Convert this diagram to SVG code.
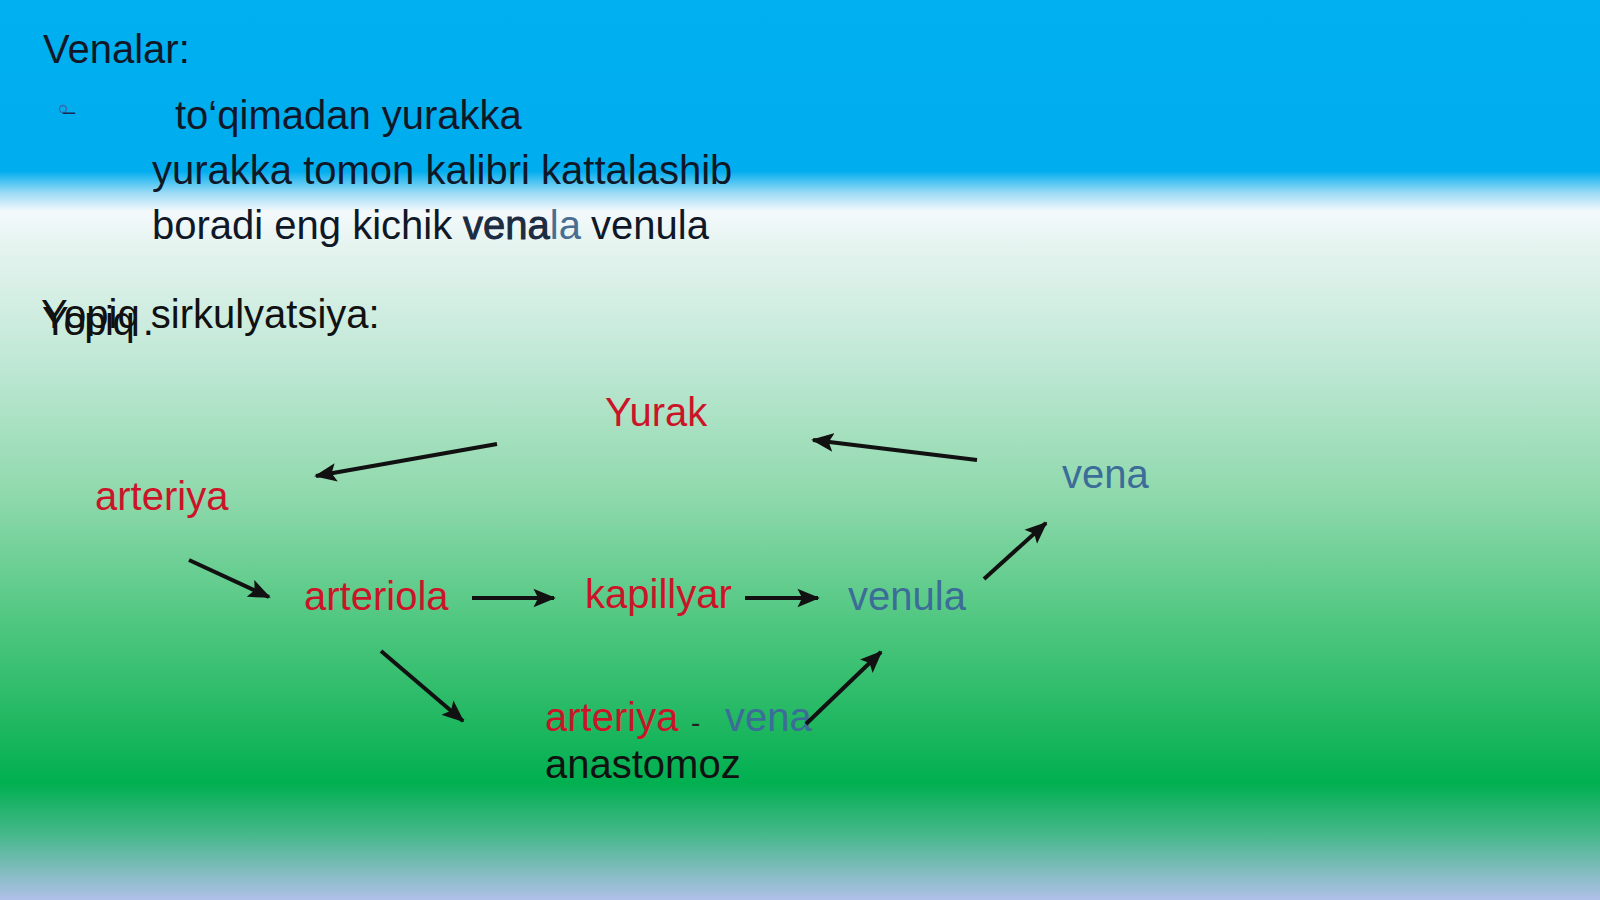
<svg xmlns="http://www.w3.org/2000/svg" width="1600" height="900" viewBox="0 0 1600 900">
  <defs>
    <linearGradient id="bg" x1="0" y1="0" x2="0" y2="1">
      <stop offset="0" stop-color="#00b0f0"/>
      <stop offset="0.19" stop-color="#00adee"/>
      <stop offset="0.215" stop-color="#9fdcf6"/>
      <stop offset="0.235" stop-color="#f4f9fc"/>
      <stop offset="0.27" stop-color="#e6f4f0"/>
      <stop offset="0.40" stop-color="#c0e8d6"/>
      <stop offset="0.55" stop-color="#8fd9ac"/>
      <stop offset="0.70" stop-color="#4cc67e"/>
      <stop offset="0.80" stop-color="#22b862"/>
      <stop offset="0.87" stop-color="#00b050"/>
      <stop offset="0.93" stop-color="#4ab88e"/>
      <stop offset="1" stop-color="#b0c0e8"/>
    </linearGradient>
    <marker id="ah" viewBox="0 0 12 10" refX="11" refY="5" markerWidth="5.6" markerHeight="4.8" orient="auto" markerUnits="strokeWidth">
      <path d="M0,0 L12,5 L0,10 L2.5,5 z" fill="#111"/>
    </marker>
    <style>
      text { font-family: "Liberation Sans", Arial, sans-serif; font-size: 40px; }
      .dark { fill: #101828; }
      .blk { fill: #111; }
      .red { fill: #cc1428; }
      .blu { fill: #3c6c98; }
      .conn line { stroke: #111; stroke-width: 4; marker-end: url(#ah); }
    </style>
  </defs>
  <rect x="0" y="0" width="1600" height="900" fill="url(#bg)"/>

  <g id="header">
    <text class="dark" x="43" y="63">Venalar:</text>
    <circle cx="63" cy="109" r="3.5" fill="none" stroke="#3a66a8" stroke-width="1.3"/>
    <text x="63" y="119" style="font-size:22px" fill="#1a2a55">–</text>
    <text class="dark" x="175" y="129">to‘qimadan yurakka</text>
    <text class="dark" x="152" y="184">yurakka tomon kalibri kattalashib</text>
    <text class="dark" x="152" y="239">boradi eng kichik</text>
    <text x="463" y="239" fill="#4a6e92">venala</text>
    <text x="463" y="239" fill="#1e2c42" stroke="#1e2c42" stroke-width="0.8">vena</text>
    <text class="dark" x="591" y="239">venula</text>
  </g>

  <g id="subtitle">
    <text class="blk" x="41" y="328">Yopiq sirkulyatsiya:</text>
    <text class="blk" x="42" y="335" letter-spacing="-1.5">Yopiq .</text>
  </g>

  <g id="node-yurak"><text class="red" x="605" y="426">Yurak</text></g>
  <g id="node-arteriya"><text class="red" x="95" y="510">arteriya</text></g>
  <g id="node-vena"><text class="blu" x="1062" y="488">vena</text></g>
  <g id="node-arteriola"><text class="red" x="304" y="610">arteriola</text></g>
  <g id="node-kapillyar"><text class="red" x="585" y="608">kapillyar</text></g>
  <g id="node-venula"><text class="blu" x="848" y="610">venula</text></g>
  <g id="node-anastomoz">
    <text class="red" x="545" y="731">arteriya</text>
    <text x="691" y="732" style="font-size:28px" fill="#222">-</text>
    <text class="blu" x="725" y="731">vena</text>
    <text class="blk" x="545" y="778">anastomoz</text>
  </g>

  <g id="connectors" class="conn">
    <line x1="497" y1="444" x2="316" y2="476"/>
    <line x1="977" y1="460" x2="813" y2="440"/>
    <line x1="189" y1="560" x2="269" y2="597"/>
    <line x1="472" y1="598" x2="554" y2="598"/>
    <line x1="745" y1="598" x2="818" y2="598"/>
    <line x1="984" y1="579" x2="1046" y2="523"/>
    <line x1="381" y1="651" x2="463" y2="721"/>
    <line x1="806" y1="724" x2="881" y2="652"/>
  </g>
</svg>
